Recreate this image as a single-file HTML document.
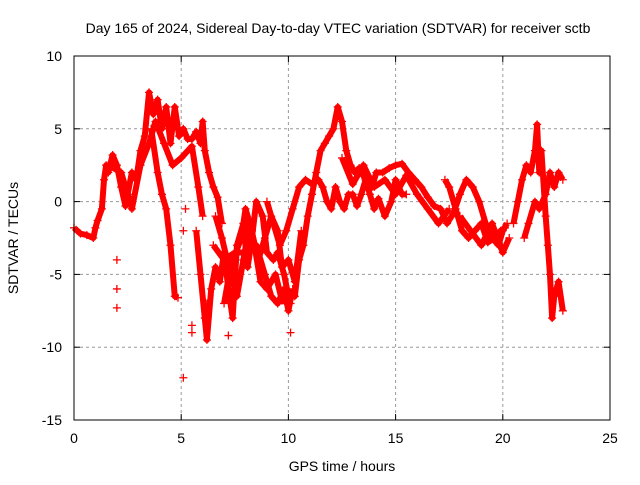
<!DOCTYPE html>
<html><head><meta charset="utf-8"><style>
body{margin:0;background:#fff;}
svg text{font-family:"Liberation Sans",sans-serif;font-size:14px;fill:#000;}
</style></head><body>
<svg id="chart" width="640" height="480" xmlns="http://www.w3.org/2000/svg">
<text x="338" y="33" text-anchor="middle">Day 165 of 2024, Sidereal Day-to-day VTEC variation (SDTVAR) for receiver sctb</text>
<text x="342" y="471" text-anchor="middle">GPS time / hours</text>
<text transform="translate(18,238) rotate(-90)" text-anchor="middle">SDTVAR / TECUs</text>
<g id="grid"></g><g id="marks"></g><g id="axes"></g>
</svg>
<script>
const xTicks=[0,5,10,15,20,25];
const yTicks=[10,5,0,-5,-10,-15];
const segA=[[0,-1.8],[0.3,-2.2],[0.6,-2.3],[0.9,-2.5],[1.0,-1.8],[1.1,-1.3],[1.3,-0.5],[1.4,1.5],[1.5,2.5],[1.6,2.0],[1.8,3.2],[2.0,2.5],[2.2,1.0],[2.4,-0.3],[2.5,0.5],[2.7,2.0],[2.9,1.5],[3.1,3.5],[3.3,4.5],[3.5,7.5],[3.7,6.0],[3.9,7.0],[4.1,5.0],[4.3,6.5],[4.5,4.0],[4.7,6.5],[4.9,4.5],[5.1,5.0],[5.3,4.3],[5.5,4.3],[5.7,4.8],[5.9,4.0],[6.0,5.5],[6.1,3.5],[6.3,2.0],[6.5,1.0],[6.7,0.3],[6.9,-1.5]];
const segB=[[3.6,5.0],[3.9,2.0],[4.1,0.5],[4.3,-0.5],[4.5,-3.0],[4.7,-6.5],[4.85,-6.6]];
const segC=[[5.7,-2.0],[5.9,-5.0],[6.1,-8.0],[6.2,-9.5],[6.4,-6.0],[6.6,-4.5],[6.8,-5.5],[7.0,-3.5],[7.2,-6.0],[7.4,-8.0],[7.6,-3.0],[7.9,-1.5],[8.1,-4.5],[8.3,-2.5],[8.5,0.0],[8.8,-1.0],[9.0,-3.5],[9.3,-4.0],[9.5,-3.5],[9.8,-5.0],[10.0,-6.5],[10.3,-6.5],[10.5,-4.0],[10.7,-3.0],[10.9,-1.0],[11.1,0.5],[11.3,2.0],[11.5,3.5],[11.7,4.0],[11.9,4.5],[12.1,5.0],[12.3,6.5],[12.5,5.5],[12.7,3.5],[12.9,2.5],[13.1,2.0],[13.3,2.3],[13.6,1.5],[13.9,1.0],[14.1,2.0],[14.4,2.0],[14.7,2.3],[15.0,2.5],[15.3,2.6],[15.6,2.0],[15.9,1.5],[16.2,1.0],[16.5,0.3],[16.8,-0.3],[17.1,-0.5],[17.4,-1.5],[17.7,-0.8],[18.0,0.5],[18.3,1.5],[18.6,1.0],[18.9,0.0],[19.2,-1.5],[19.5,-2.5],[19.8,-3.0],[20.0,-2.0],[20.2,-1.5]];
const segD=[[6.5,-3.0],[7.0,-4.0],[7.5,-3.5],[8.0,-3.5],[8.5,-3.0],[8.9,-5.0],[9.2,-6.5],[9.5,-7.0],[9.8,-6.0],[10.0,-7.5],[10.2,-6.0]];
const segE=[[9.0,0.0],[9.3,-1.5],[9.6,-3.0],[9.9,-2.0],[10.2,-0.5],[10.5,1.0],[10.8,1.5],[11.1,1.2],[11.4,1.5],[11.6,1.0],[11.8,0.0],[12.0,-0.5],[12.2,1.0],[12.4,0.0],[12.6,-0.5],[12.8,0.5],[13.0,0.5],[13.2,-0.3],[13.4,0.5],[13.6,1.5],[13.8,0.5],[14.0,-0.5],[14.2,0.2],[14.5,-1.0],[14.8,0.0],[15.0,1.5],[15.3,0.5],[15.5,0.5]];
const segF=[[17.3,1.5],[17.5,1.0],[17.8,-0.5],[18.1,-2.0],[18.4,-2.5],[18.7,-2.0],[19.0,-1.5],[19.3,-2.8],[19.6,-2.5],[19.9,-2.0],[20.1,-1.8]];
const segG=[[20.5,-1.5],[20.7,0.0],[20.9,1.5],[21.1,2.5],[21.3,2.0],[21.5,3.5],[21.6,5.3],[21.7,2.0],[21.8,3.5],[22.0,-1.0],[22.1,-3.0],[22.2,-5.0],[22.3,-8.0],[22.4,-6.5],[22.6,-5.5],[22.8,-7.5]];
const segH=[[21.0,-2.5],[21.2,-1.5],[21.5,0.0],[21.7,-0.5],[22.0,0.5],[22.2,2.0],[22.4,1.0],[22.6,2.0],[22.8,1.5]];
const segI=[[6.6,-1.0],[6.9,-2.5],[7.3,-5.0],[7.6,-6.5],[7.9,-4.0],[8.2,-1.5],[8.6,-4.0],[8.9,-2.5],[9.2,-1.0],[9.5,-2.0],[9.7,-4.5],[10.0,-4.0],[10.3,-5.5],[10.6,-2.0]];
const segJ=[[7.0,-7.0],[7.3,-4.5],[7.8,-2.5],[8.0,-0.5],[8.3,-2.0],[8.7,-5.5],[9.0,-6.0],[9.4,-5.0],[9.7,-6.8],[10.1,-7.0]];
const segK=[[12.5,3.0],[13.0,1.2],[13.5,2.5],[14.0,1.0],[14.5,1.5],[15.0,0.5],[15.5,1.8],[16.0,0.5],[16.5,-0.5],[17.0,-1.5],[17.5,-0.5]];
const segL=[[1.6,2.5],[2.2,2.0],[2.7,-0.5],[3.1,2.5],[3.5,4.0],[3.8,5.5],[4.2,4.0],[4.6,2.5],[5.0,3.0],[5.5,3.8],[5.8,1.0],[6.0,-1.0]];
const segM=[[18.0,-1.0],[18.5,-2.0],[19.0,-3.0],[19.5,-1.5],[20.0,-3.5],[20.3,-2.5]];
const isolated=[[5.1,-12.1],[5.5,-9.0],[5.5,-8.5],[2.0,-6.0],[2.0,-7.3],[2.0,-4.0],[5.2,-0.5],[5.1,-2.0],[6.2,-7.0],[10.1,-9.0],[7.2,-9.2]];
const segments=[segA,segB,segC,segD,segE,segF,segG,segH,segI,segJ,segK,segL,segM];

const L=74,R=610,T=56,B=420;
const xs=v=>L+(v-0)/(25-0)*(R-L);
const ys=v=>T+(10-v)/(10-(-15))*(B-T);
const NS='http://www.w3.org/2000/svg';
function mk(tag,attrs,parent){const e=document.createElementNS(NS,tag);for(const k in attrs)e.setAttribute(k,attrs[k]);parent.appendChild(e);return e;}
const grid=document.getElementById('grid'),axes=document.getElementById('axes'),marks=document.getElementById('marks');
xTicks.forEach(t=>{
  const x=xs(t);
  if(t>0&&t<25){const g=mk('line',{x1:x,x2:x,y1:T,y2:B,stroke:'#999','stroke-dasharray':'3,3'},grid);
  
  }
  mk('line',{x1:x,x2:x,y1:B,y2:B-6,stroke:'#000'},axes);
  mk('line',{x1:x,x2:x,y1:T,y2:T+6,stroke:'#000'},axes);
  const tx=mk('text',{x:x,y:B+23,'text-anchor':'middle'},axes);tx.textContent=t;
  
  
});
yTicks.forEach(t=>{
  const y=ys(t);
  if(t<10&&t>-15){const g=mk('line',{x1:L,x2:R,y1:y,y2:y,stroke:'#999','stroke-dasharray':'3,3'},grid);
  
  }
  mk('line',{x1:L,x2:L+6,y1:y,y2:y,stroke:'#000'},axes);
  mk('line',{x1:R,x2:R-6,y1:y,y2:y,stroke:'#000'},axes);
  const tx=mk('text',{x:L-12,y:y+5,'text-anchor':'end'},axes);tx.textContent=t;
  
  
});
const frame=mk('rect',{x:L,y:T,width:R-L,height:B-T,fill:'none',stroke:'#000'},axes);


function cross(p){
  const x=xs(p[0]),y=ys(p[1]);
  const c=mk('path',{d:`M${x-4},${y}h8M${x},${y-4}v8`,stroke:'#f00','stroke-width':1.3},marks);
  
  
}
segments.forEach(s=>{
  const pl=mk('polyline',{points:s.map(p=>xs(p[0])+','+ys(p[1])).join(' '),fill:'none',stroke:'#f00','stroke-width':6,'stroke-linejoin':'round'},marks);
  
  
  s.forEach(cross);
});
isolated.forEach(cross);
</script>
</body></html>
